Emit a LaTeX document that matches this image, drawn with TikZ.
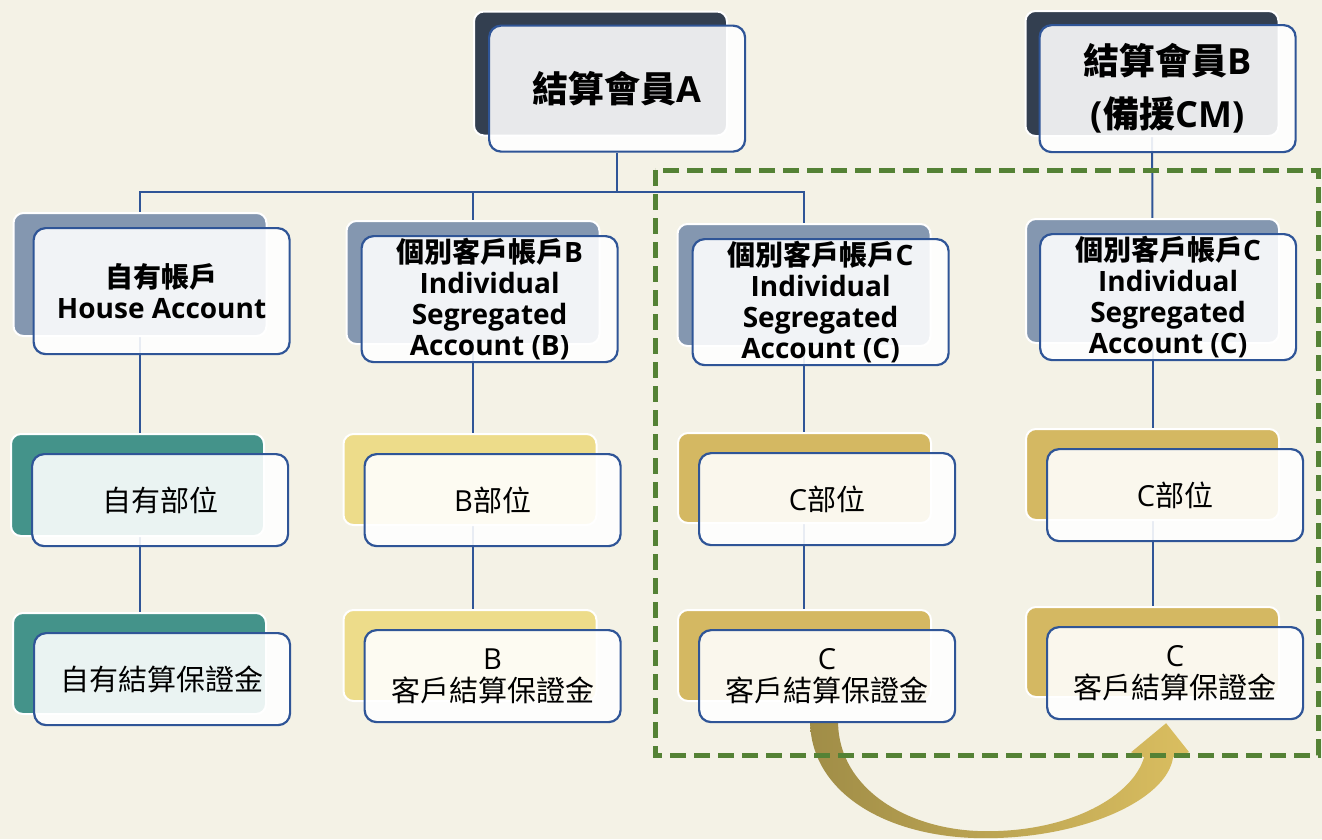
\documentclass[tikz,border=0pt]{standalone}
\usepackage{fontspec}
\setmainfont{Open Sans}
\newfontfamily\cjk{Noto Sans CJK TC}
\usepackage{tikz}
\usetikzlibrary{calc,positioning}
\definecolor{papercream}{HTML}{F4F2E6}
\definecolor{membernavy}{HTML}{333F50}
\definecolor{accountslate}{HTML}{8497B0}
\definecolor{ownteal}{HTML}{44938A}
\definecolor{palegold}{HTML}{EDDC8A}
\definecolor{deepgold}{HTML}{D4B862}
\definecolor{edgeblue}{HTML}{2F5597}
\definecolor{framegreen}{HTML}{548235}
\definecolor{arrowdark}{HTML}{A08D47}
\definecolor{arrowlight}{HTML}{DABE60}

\pgfdeclarelayer{ground}
\pgfdeclarelayer{wires}
\pgfdeclarelayer{shadows}
\pgfsetlayers{ground,wires,shadows,main}

\tikzset{
  backbox/.style={draw=white,line width=2pt,rounded corners=10pt,minimum width=253pt,inner sep=0pt},
  frontbox/.style={draw=edgeblue,line width=2.2pt,fill=white,fill opacity=0.89,text opacity=1,
    rounded corners=12pt,minimum width=256pt,align=center,inner sep=0pt,anchor=north west},
  link/.style={draw=edgeblue,line width=2pt},
  frame/.style={draw=framegreen,line width=5pt,dash pattern=on 16pt off 8pt},
  headfont/.style={font=\fontsize{36}{53}\selectfont\bfseries},
  acctfont/.style={font=\fontsize{28}{31}\selectfont\bfseries},
  bodyfont/.style={font=\fontsize{29}{32}\selectfont},
}

\begin{document}
\begin{tikzpicture}[x=1pt,y=-1pt]
  \useasboundingbox (0,0) rectangle (1322,839);
  \begin{pgfonlayer}{ground}
    \fill[papercream] (0,0) rectangle (1322,839);
  \end{pgfonlayer}

  % coloured boxes behind
  \begin{pgfonlayer}{shadows}
    \foreach \n/\x/\y/\h/\c in {memA/600.5/73.5/124/membernavy, memB/1152/73.5/125/membernavy,
        accH/140/274.5/123/accountslate, accB/473/282.5/123/accountslate,
        accC/804/285/122/accountslate, accCx/1152.5/281/124/accountslate,
        posH/137.5/485/102/ownteal, posB/470/479.5/91/palegold,
        posC/804.5/478/90/deepgold, posCx/1152.5/474.5/91/deepgold,
        marH/139.5/663.5/101/ownteal, marB/470/655.5/91/palegold,
        marC/804.5/655.5/91/deepgold, marCx/1152.5/652/90/deepgold}{
      \node[backbox,fill=\c,minimum height=\h pt] (\n-bk) at (\x,\y) {};
    }
  \end{pgfonlayer}

  % clearing members
  \node[frontbox,headfont,minimum height=126pt] (memA) at ($(memA-bk.north west)+(15,14)$) {{\cjk 結算會員}A};
  \node[frontbox,headfont,minimum height=127pt] (memB) at ($(memB-bk.north west)+(14,14)$) {{\cjk 結算會員}B\\({\cjk 備援}CM)};

  % accounts
  \foreach \n/\d/\t in {accH/20/{{\cjk 自有帳戶}\\House Account},
      accB/15/{{\cjk 個別客戶帳戶}B\\Individual\\Segregated\\Account (B)},
      accC/15/{{\cjk 個別客戶帳戶}C\\Individual\\Segregated\\Account (C)},
      accCx/14/{{\cjk 個別客戶帳戶}C\\Individual\\Segregated\\Account (C)}}{
    \node[frontbox,acctfont,minimum height=126pt] (\n) at ($(\n-bk.north west)+(\d,15)$) {\t};
  }

  % positions and margins
  \foreach \n/\t in {posH/{\cjk 自有部位}, posB/{B{\cjk 部位}}, posC/{C{\cjk 部位}}, posCx/{C{\cjk 部位}},
      marH/{\cjk 自有結算保證金}, marB/{B\\{\cjk 客戶結算保證金}},
      marC/{C\\{\cjk 客戶結算保證金}}, marCx/{C\\{\cjk 客戶結算保證金}}}{
    \node[frontbox,bodyfont,minimum height=92pt] (\n) at ($(\n-bk.north west)+(21,20)$) {\t};
  }

  \begin{pgfonlayer}{wires}
    \coordinate (bus) at (0,192);
    \draw[link] (memA.south) -- (memA.south |- bus);
    \draw[link] (accH-bk.center) -- (accH-bk.center |- bus) -| (accC-bk.center);
    \draw[link] (accB-bk.center) -- (accB-bk.center |- bus);
    \draw[link] (memB-bk.center) -- (accCx-bk.center);
    \foreach \c in {H,B,C,Cx}
      \draw[link] (acc\c-bk.center) -- (acc\c-bk.center |- mar\c-bk.center);

    % transfer arrow
    \coordinate (arrA) at (marC.south);
    \coordinate (arrB) at (marCx.south);
    \shade[left color=arrowdark,right color=arrowlight]
      ($(arrA)+(-17,0)$) .. controls ($(arrA)+(-15,70)$) and ($(arrA)+(60,115)$) .. ($(arrA)+(158,115)$)
      .. controls ($(arrA)+(255,115)$) and ($(arrB)+(-8,80)$) .. ($(arrB)+(-2,37)$)
      -- ($(arrB)+(14,32)$) -- ($(arrB)+(-9,3)$) -- ($(arrB)+(-44,32)$) -- ($(arrB)+(-31,37)$)
      .. controls ($(arrB)+(-42,75)$) and ($(arrA)+(245,108)$) .. ($(arrA)+(160,108)$)
      .. controls ($(arrA)+(80,108)$) and ($(arrA)+(12,65)$) .. ($(arrA)+(11,0)$) -- cycle;
  \end{pgfonlayer}

  \draw[frame] (655,170) rectangle (1318,755);
\end{tikzpicture}
\end{document}
